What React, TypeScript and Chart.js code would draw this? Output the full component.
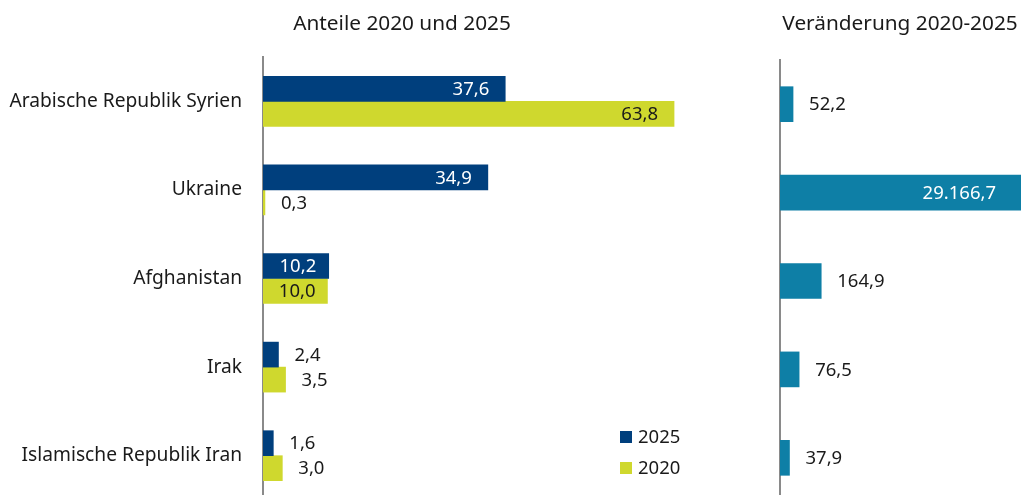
import React, { useEffect, useRef } from "react";
import { Chart, registerables } from "chart.js";

Chart.register(...registerables);

const categories = [
  "Arabische Republik Syrien",
  "Ukraine",
  "Afghanistan",
  "Irak",
  "Islamische Republik Iran",
];
const values2025 = [37.6, 34.9, 10.2, 2.4, 1.6];
const values2020 = [63.8, 0.3, 10.0, 3.5, 3.0];
const changeValues = [52.2, 29166.7, 164.9, 76.5, 37.9];
const seriesLabels = ["2025", "2020"];
const titleLeft = "Anteile 2020 und 2025";
const titleRight = "Veränderung 2020-2025";

const COLOR_2025 = "#003f7d";
const COLOR_2020 = "#cfd82e";
const COLOR_CHANGE = "#0e7fa6";
const TEXT = "#1a1a1a";
const AXIS = "#8a8a8a";
const FONT = "'Noto Sans', Lato, sans-serif";
const FS = 18.5;
const FS_AXIS = 19.2;
const FS_TITLE = 20.8;

function fmt(v: number): string {
  const neg = v < 0;
  const s = Math.abs(v).toFixed(1);
  const [i, d] = s.split(".");
  const withDots = i.replace(/\B(?=(\d{3})+(?!\d))/g, ".");
  return (neg ? "-" : "") + withDots + "," + d;
}

const labelPlugin = {
  id: "valueLabels",
  afterDatasetsDraw(chart: any) {
    const ctx = chart.ctx;
    const area = chart.chartArea;
    ctx.save();
    ctx.font = `${FS}px ${FONT}`;
    ctx.textBaseline = "middle";
    chart.data.datasets.forEach((ds: any, di: number) => {
      const meta = chart.getDatasetMeta(di);
      meta.data.forEach((bar: any, i: number) => {
        const v = ds.data[i];
        const txt = fmt(v);
        const w = ctx.measureText(txt).width;
        const base = bar.base;
        const clipped = bar.x > area.right;
        const end = Math.min(bar.x, area.right);
        const barW = end - base;
        const inside = ds.insideMin !== undefined && v >= ds.insideMin;
        const y = bar.y + 1;
        if (inside) {
          ctx.fillStyle = ds.insideColor;
          const pad = clipped ? 25 : 16;
          if (barW - w < 2 * pad) {
            ctx.textAlign = "center";
            ctx.fillText(txt, base + barW / 2 + 2, y);
          } else {
            ctx.textAlign = "right";
            ctx.fillText(txt, end - pad, y);
          }
        } else {
          ctx.fillStyle = TEXT;
          ctx.textAlign = "left";
          ctx.fillText(txt, end + 16, y);
        }
      });
    });
    ctx.restore();
  },
};

const legendPlugin = {
  id: "customLegend",
  afterDraw(chart: any) {
    const ctx = chart.ctx;
    ctx.save();
    ctx.font = `${FS}px ${FONT}`;
    ctx.textBaseline = "middle";
    ctx.textAlign = "left";
    const ys = [437, 468];
    chart.data.datasets.forEach((ds: any, di: number) => {
      ctx.fillStyle = ds.backgroundColor;
      ctx.fillRect(620, ys[di] - 6, 12, 12);
      ctx.fillStyle = TEXT;
      ctx.fillText(ds.label, 638, ys[di] + 1);
    });
    ctx.restore();
  },
};

function noPad(scale: any) {
  scale.paddingTop = 0;
  scale.paddingBottom = 0;
}

export default function App() {
  const leftRef = useRef<HTMLCanvasElement>(null);
  const rightRef = useRef<HTMLCanvasElement>(null);

  useEffect(() => {
    const left = new Chart(leftRef.current!, {
      type: "bar",
      data: {
        labels: categories,
        datasets: [
          {
            label: seriesLabels[0],
            data: values2025,
            backgroundColor: COLOR_2025,
            barThickness: 25,
            insideMin: 10,
            insideColor: "#ffffff",
          } as any,
          {
            label: seriesLabels[1],
            data: values2020,
            backgroundColor: COLOR_2020,
            barThickness: 25,
            insideMin: 10,
            insideColor: TEXT,
          } as any,
        ],
      },
      options: {
        indexAxis: "y",
        responsive: false,
        animation: false,
        layout: { padding: { top: 57, bottom: 5, left: 0, right: 0 } },
        plugins: { legend: { display: false }, tooltip: { enabled: false } },
        scales: {
          x: { display: false, min: 0, max: 70 },
          y: {
            grid: { display: false, drawTicks: false },
            border: { display: true, color: AXIS, width: 2 },
            ticks: { padding: 21, color: TEXT, font: { family: FONT, size: FS_AXIS } },
            afterFit(scale: any) {
              scale.width = 263;
              noPad(scale);
            },
          },
        },
      } as any,
      plugins: [labelPlugin, legendPlugin],
    });

    const right = new Chart(rightRef.current!, {
      type: "bar",
      data: {
        labels: categories,
        datasets: [
          {
            label: titleRight,
            data: changeValues,
            backgroundColor: COLOR_CHANGE,
            barThickness: 35,
            insideMin: 1000,
            insideColor: "#ffffff",
          } as any,
        ],
      },
      options: {
        indexAxis: "y",
        responsive: false,
        animation: false,
        layout: { padding: { top: 60, bottom: 3, left: 20, right: 0 } },
        plugins: { legend: { display: false }, tooltip: { enabled: false } },
        scales: {
          x: { display: false, min: 0, max: 964 },
          y: {
            grid: { display: false, drawTicks: false },
            border: { display: true, color: AXIS, width: 2 },
            ticks: { display: false },
            afterFit(scale: any) {
              scale.width = 0;
              noPad(scale);
            },
          },
        },
      } as any,
      plugins: [labelPlugin],
    });

    return () => {
      left.destroy();
      right.destroy();
    };
  }, []);

  const titleStyle: React.CSSProperties = {
    position: "absolute",
    top: 8,
    fontFamily: FONT,
    fontSize: FS_TITLE,
    color: TEXT,
    whiteSpace: "nowrap",
    transform: "translateX(-50%)",
    lineHeight: "28px",
  };

  return (
    <div
      style={{
        position: "fixed",
        left: 0,
        top: 0,
        width: 1021,
        height: 495,
        overflow: "hidden",
        background: "#ffffff",
      }}
    >
      <canvas
        ref={leftRef}
        width={714}
        height={505}
        style={{ position: "absolute", left: 0, top: 0, width: 714, height: 505 }}
      />
      <canvas
        ref={rightRef}
        width={261}
        height={505}
        style={{ position: "absolute", left: 760, top: 0, width: 261, height: 505 }}
      />
      <div style={{ ...titleStyle, left: 402 }}>{titleLeft}</div>
      <div style={{ ...titleStyle, left: 900 }}>{titleRight}</div>
    </div>
  );
}
